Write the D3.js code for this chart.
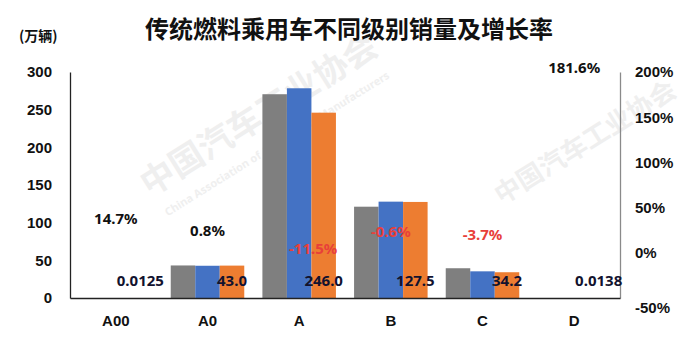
<!DOCTYPE html>
<html>
<head>
<meta charset="utf-8">
<script src="https://cdn.jsdelivr.net/npm/d3@7"></script>
<style>
  body { margin: 0; background: #fff; }
  svg { display: block; font-family: "Noto Sans", "Noto Sans CJK SC", sans-serif; }
</style>
</head>
<body>
<svg id="chart" width="690" height="338"></svg>
<script>
// chart data
const categories = ["A00", "A0", "A", "B", "C", "D"];
const seriesNames = ["s1", "s2", "s3"];
const grayValues = [0, 43.2, 270.5, 121.2, 39.5, 0];
const blueValues = [0, 42.8, 278.4, 127.9, 35.4, 0];
const orangeValues = [0.0125, 43.0, 246.0, 127.5, 34.2, 0.0138];
const orangeLabels = ["0.0125", "43.0", "246.0", "127.5", "34.2", "0.0138"];
const growthRates = [14.7, 0.8, -11.5, -0.6, -3.7, 181.6];
const leftTicks = [0, 50, 100, 150, 200, 250, 300];
const rightTicks = [-50, 0, 50, 100, 150, 200];

const colors = ["#7f7f7f", "#4472c4", "#ed7d31"];
const svg = d3.select("#chart");

const plot = { left: 70, right: 620, top: 72, bottom: 298 };

// faint watermark
const wm = svg.append("g").attr("fill", "#efefef").attr("font-weight", "bold");
[[265, 125, true], [590, 150, false]].forEach(([px, py, withEn]) => {
  wm.append("text").attr("transform", `translate(${px},${py}) rotate(-32)`)
    .attr("text-anchor", "middle").attr("font-size", withEn ? 34 : 26)
    .attr("font-family", "Noto Sans CJK SC").text("中国汽车工业协会");
  if (withEn) {
    wm.append("text").attr("transform", `translate(${px + 14},${py + 22}) rotate(-32)`)
      .attr("text-anchor", "middle").attr("font-size", 11)
      .text("China Association of Automobile Manufacturers");
  }
});

const x = d3.scaleBand().domain(categories).range([plot.left, plot.right]);
const x1 = d3.scaleBand().domain(seriesNames).range([0, x.bandwidth()])
  .paddingInner(0).paddingOuter(0.37);
const yL = d3.scaleLinear().domain([0, 300]).range([plot.bottom, plot.top]);
const yR = d3.scaleLinear().domain([-50, 200]).range([plot.bottom, plot.top]);

// bars
const allSeries = [grayValues, blueValues, orangeValues];
allSeries.forEach((vals, si) => {
  svg.append("g").selectAll("rect").data(vals).join("rect")
    .attr("x", (d, i) => x(categories[i]) + x1(seriesNames[si]))
    .attr("width", x1.bandwidth())
    .attr("y", d => yL(d))
    .attr("height", d => yL(0) - yL(d))
    .attr("fill", colors[si]);
});

// left axis
const axL = svg.append("g").attr("transform", `translate(${plot.left},0)`)
  .call(d3.axisLeft(yL).tickValues(leftTicks).tickSize(0).tickPadding(18));
axL.select(".domain").attr("stroke", "#222").attr("stroke-width", 1.3);
axL.selectAll("text").attr("font-size", 15).attr("font-weight", "bold").attr("fill", "#111");

// right axis
const axR = svg.append("g").attr("transform", `translate(${plot.right},0)`)
  .call(d3.axisRight(yR).tickValues(rightTicks).tickSize(0).tickPadding(15)
    .tickFormat(d => d + "%"));
axR.select(".domain").attr("stroke", "#8a8a8a").attr("stroke-width", 1.3);
axR.selectAll("text").attr("font-size", 15).attr("font-weight", "bold").attr("fill", "#111")
  .filter(d => d === -50).attr("dy", "0.95em");

// baseline + category axis
const axB = svg.append("g").attr("transform", `translate(0,${plot.bottom})`)
  .call(d3.axisBottom(x).tickSize(0).tickPadding(17));
axB.select(".domain").attr("stroke", "#222").attr("stroke-width", 1.3);
axB.selectAll("text").attr("font-size", 15).attr("font-weight", "bold").attr("fill", "#111");

// value labels (orange series, inside base)
svg.append("g").selectAll("text").data(orangeLabels).join("text")
  .attr("x", (d, i) => x(categories[i]) + x1("s3") + x1.bandwidth() / 2)
  .attr("y", yL(0) - 12)
  .attr("text-anchor", "middle")
  .attr("font-size", 15).attr("font-weight", "bold").attr("fill", "#12122e")
  .text(d => d);

// growth rate labels
const nudge = { "A": [14, 7] };
svg.append("g").selectAll("text").data(growthRates).join("text")
  .attr("x", (d, i) => x(categories[i]) + x.bandwidth() / 2 + (nudge[categories[i]] || [0, 0])[0])
  .attr("y", (d, i) => yR(d) - 16 + (nudge[categories[i]] || [0, 0])[1])
  .attr("text-anchor", "middle")
  .attr("font-size", 15).attr("font-weight", "bold")
  .attr("fill", d => d < 0 ? "#e8403a" : "#111")
  .text(d => d.toFixed(1) + "%");

// title + unit
svg.append("text").attr("x", 349).attr("y", 38).attr("text-anchor", "middle")
  .attr("font-family", "Noto Sans CJK SC").attr("font-size", 24).attr("font-weight", "bold")
  .attr("fill", "#111").text("传统燃料乘用车不同级别销量及增长率");
svg.append("text").attr("x", 19).attr("y", 41)
  .attr("font-family", "Noto Sans CJK SC").attr("font-size", 14).attr("font-weight", "bold")
  .attr("fill", "#111").text("(万辆)");
</script>
</body>
</html>
